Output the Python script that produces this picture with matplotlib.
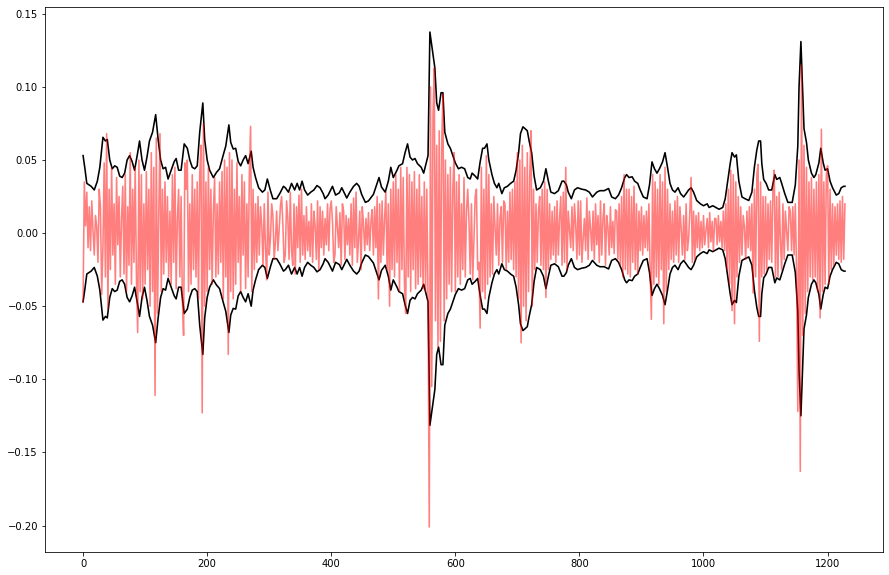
import numpy as np
import matplotlib
matplotlib.use("Agg")
import matplotlib.pyplot as plt

ret_step = 2
returns = [
    -0.047, 0.035, 0.005, 0.028, -0.010, 0.018, -0.012, 0.022, 0.002, -0.015,
    0.012, 0.004, -0.020, 0.030, 0.018, -0.042, -0.010, 0.048, -0.030, 0.068,
    -0.052, 0.030, -0.025, 0.045, -0.015, 0.020, -0.035, 0.038, -0.008, 0.025,
    -0.030, 0.010, 0.032, -0.028, 0.040, -0.040, 0.018, -0.022, 0.055, -0.035,
    0.030, -0.020, 0.045, -0.030, -0.068, 0.050, -0.040, 0.040, -0.045, 0.020,
    -0.035, 0.042, -0.025, 0.030, -0.050, 0.055, -0.040, 0.045, -0.111, 0.065,
    -0.055, 0.012, 0.068, -0.040, 0.030, -0.028, 0.035, -0.020, 0.025, -0.030,
    0.015, -0.035, 0.040, -0.020, 0.045, -0.038, 0.010, 0.030, -0.030, 0.025,
    -0.045, -0.070, 0.048, 0.030, 0.050, -0.040, 0.020, -0.035, 0.040, -0.025,
    0.030, -0.030, 0.035, -0.045, 0.040, 0.060, -0.123, 0.075, -0.050, 0.035,
    -0.040, 0.045, -0.025, 0.030, -0.035, 0.015, 0.038, -0.030, 0.020, -0.028,
    0.035, -0.020, 0.042, -0.045, 0.050, -0.030, 0.045, -0.083, 0.055, -0.040,
    0.050, -0.045, 0.030, -0.035, 0.048, -0.020, 0.025, -0.040, 0.040, -0.015,
    0.035, -0.038, 0.020, -0.030, 0.040, 0.073, -0.040, 0.030, -0.025, 0.020,
    -0.020, 0.025, -0.015, 0.018, 0.005, -0.022, 0.020, -0.010, -0.032, 0.028,
    -0.015, -0.004, 0.020, 0.012, -0.018, -0.006, 0.015, -0.012, 0.002, 0.018,
    0.025, 0.006, -0.020, -0.015, 0.022, 0.010, -0.018, 0.028, -0.012, -0.022,
    0.020, -0.028, 0.018, -0.010, 0.026, -0.020, 0.030, -0.015, 0.012, -0.018,
    0.018, -0.012, 0.008, -0.016, 0.020, -0.020, 0.015, 0.005, -0.018, 0.022,
    -0.025, 0.018, -0.010, 0.015, -0.015, 0.010, -0.008, 0.020, -0.012, 0.016,
    0.022, 0.008, -0.020, -0.015, 0.018, 0.004, -0.010, 0.014, -0.022, 0.020,
    0.015, -0.018, 0.012, -0.008, 0.010, -0.015, 0.020, -0.022, 0.024, -0.010,
    0.028, -0.020, -0.004, 0.015, -0.025, 0.018, 0.006, -0.012, 0.010, -0.008,
    0.014, -0.012, 0.008, 0.016, -0.015, 0.018, -0.010, 0.025, -0.045, 0.020,
    -0.020, 0.022, -0.015, 0.010, 0.028, -0.025, 0.020, -0.050, 0.030, -0.025,
    0.035, -0.030, 0.040, -0.020, 0.030, -0.040, 0.045, -0.025, 0.038, -0.035,
    -0.055, 0.045, -0.030, 0.040, -0.040, 0.035, -0.025, 0.042, -0.038, 0.030,
    -0.035, 0.040, -0.030, 0.025, -0.038, 0.035, -0.040, 0.030, -0.045, -0.201,
    0.100, -0.105, 0.080, 0.113, -0.060, 0.060, -0.078, 0.070, -0.074, 0.060,
    0.095, -0.060, 0.050, -0.045, 0.040, -0.035, 0.045, -0.040, 0.030, 0.055,
    -0.040, 0.035, -0.030, 0.040, -0.035, 0.020, -0.025, 0.038, -0.030, 0.015,
    0.030, 0.008, -0.028, 0.020, -0.032, -0.005, 0.025, 0.030, -0.025, -0.020,
    -0.065, 0.045, -0.040, 0.030, -0.045, 0.053, -0.035, 0.040, -0.030, 0.020,
    -0.028, 0.025, 0.004, -0.015, 0.020, -0.022, 0.010, 0.018, -0.020, 0.022,
    0.020, -0.025, 0.015, -0.020, 0.028, -0.018, 0.030, -0.025, 0.035, -0.030,
    0.055, -0.045, 0.050, -0.075, 0.060, -0.050, 0.045, -0.060, 0.055, -0.040,
    0.040, 0.070, -0.050, 0.030, -0.025, 0.020, -0.020, 0.015, 0.025, -0.022,
    0.030, -0.025, 0.035, -0.044, 0.030, -0.025, 0.020, -0.018, 0.015, -0.015,
    0.018, -0.020, 0.022, -0.015, 0.010, 0.025, -0.022, 0.028, -0.020, 0.045,
    -0.025, 0.015, 0.002, -0.010, 0.018, -0.012, 0.020, 0.006, -0.018, 0.022,
    -0.015, 0.022, -0.020, -0.004, 0.010, -0.012, 0.024, -0.018, 0.015, 0.003,
    -0.012, 0.015, -0.018, 0.020, -0.008, 0.012, -0.020, 0.022, -0.015, 0.010,
    0.020, -0.022, 0.012, 0.004, -0.015, 0.018, -0.010, 0.008, -0.014, 0.016,
    0.015, -0.018, 0.020, -0.022, 0.025, -0.030, 0.040, -0.025, 0.030, -0.028,
    0.030, -0.030, 0.025, -0.020, 0.032, -0.025, 0.020, -0.028, 0.015, -0.012,
    0.018, -0.015, 0.012, -0.010, 0.015, -0.012, 0.020, -0.025, -0.059, 0.040,
    -0.035, 0.035, -0.030, 0.030, -0.035, 0.040, -0.025, 0.035, -0.062, 0.045,
    -0.040, 0.030, -0.025, 0.020, -0.018, 0.015, -0.020, 0.022, -0.015, 0.025,
    -0.020, 0.018, 0.003, -0.015, 0.012, -0.018, 0.020, -0.012, -0.004, 0.015,
    0.038, -0.020, 0.015, -0.018, 0.012, -0.010, 0.014, -0.012, 0.008, -0.010,
    0.012, -0.008, 0.002, 0.010, -0.010, 0.014, -0.006, 0.008, -0.012, 0.010,
    0.010, -0.008, 0.012, -0.006, 0.008, -0.010, 0.015, -0.012, 0.020, -0.025,
    0.030, -0.035, 0.043, -0.053, 0.040, -0.062, 0.035, -0.030, 0.025, -0.020,
    0.018, -0.015, 0.012, 0.004, -0.018, 0.015, -0.010, 0.018, -0.012, 0.020,
    -0.041, 0.030, -0.030, 0.040, 0.047, -0.074, 0.035, -0.030, 0.025, -0.028,
    0.025, -0.025, 0.020, -0.018, 0.022, -0.020, 0.030, 0.043, -0.030, 0.025,
    -0.030, 0.028, -0.006, -0.025, 0.020, -0.018, 0.015, 0.002, -0.012, 0.018,
    0.015, -0.012, 0.018, -0.015, 0.020, -0.025, -0.122, 0.050, -0.163, 0.115,
    -0.070, 0.060, -0.055, 0.045, -0.040, 0.035, -0.030, 0.038, -0.032, 0.030,
    -0.030, 0.035, -0.040, 0.040, -0.058, 0.071, -0.040, 0.035, -0.035, 0.040,
    0.046, -0.035, 0.030, -0.025, 0.020, -0.022, 0.018, -0.015, 0.020, -0.018,
    0.022, -0.020, 0.025, -0.018, 0.020,
]

# band half-width (2 sigma) at the turning points of the band
band_mean = 0.003
band_day = [
    0, 3, 6, 13, 18, 23, 27, 32, 36, 39, 43, 47, 51, 55, 59, 63, 67, 71, 75, 79,
    83, 88, 91, 95, 99, 103, 107, 112, 117, 121, 125, 129, 133, 137, 142, 147, 150, 154, 158, 163,
    168, 172, 176, 180, 184, 188, 193, 196, 200, 204, 210, 215, 220, 226, 230, 235, 238, 242, 246, 250,
    254, 258, 262, 266, 271, 274, 278, 283, 289, 293, 297, 302, 306, 312, 317, 323, 326, 331, 336, 341,
    345, 349, 353, 357, 362, 367, 372, 377, 382, 387, 390, 395, 402, 407, 413, 417, 421, 425, 430, 436,
    441, 445, 449, 455, 460, 468, 473, 477, 481, 487, 492, 496, 500, 506, 509, 515, 519, 523, 527, 531,
    535, 539, 545, 549, 553, 556, 559, 563, 567, 570, 573, 577, 580, 583, 588, 592, 596, 600, 605, 610,
    615, 620, 624, 627, 632, 636, 640, 644, 647, 651, 654, 659, 663, 667, 670, 675, 679, 684, 689, 694,
    698, 702, 705, 709, 712, 716, 719, 723, 727, 731, 737, 742, 746, 750, 754, 760, 766, 772, 775, 779,
    782, 787, 792, 797, 804, 810, 816, 821, 828, 833, 840, 847, 852, 858, 863, 868, 873, 876, 880, 885,
    889, 894, 898, 903, 909, 913, 917, 921, 925, 929, 934, 938, 942, 946, 950, 954, 959, 963, 968, 972,
    976, 980, 984, 989, 995, 1000, 1006, 1009, 1015, 1020, 1025, 1031, 1035, 1039, 1043, 1046, 1050, 1053, 1057, 1062,
    1067, 1073, 1078, 1082, 1086, 1089, 1092, 1094, 1097, 1101, 1105, 1110, 1115, 1118, 1123, 1126, 1131, 1136, 1143, 1148,
    1152, 1154, 1157, 1159, 1162, 1166, 1169, 1174, 1178, 1181, 1186, 1189, 1193, 1196, 1200, 1204, 1208, 1214, 1218, 1222,
    1226, 1228,
]
band_width = [
    0.050, 0.041, 0.031, 0.029, 0.0265, 0.0325, 0.042, 0.0625, 0.060, 0.061, 0.047, 0.041, 0.043, 0.042, 0.036, 0.035, 0.038, 0.047, 0.050, 0.046,
    0.040, 0.052, 0.060, 0.047, 0.040, 0.049, 0.060, 0.066, 0.078, 0.061, 0.047, 0.041, 0.042, 0.034, 0.040, 0.046, 0.048, 0.040, 0.040, 0.058,
    0.055, 0.047, 0.042, 0.041, 0.043, 0.066, 0.086, 0.061, 0.047, 0.040, 0.035, 0.0385, 0.041, 0.0505, 0.0565, 0.071, 0.059, 0.0545, 0.055, 0.046,
    0.043, 0.047, 0.050, 0.0445, 0.053, 0.042, 0.035, 0.028, 0.025, 0.0265, 0.034, 0.026, 0.0205, 0.0205, 0.024, 0.029, 0.028, 0.025, 0.031, 0.0265,
    0.031, 0.0265, 0.0325, 0.0265, 0.023, 0.025, 0.0265, 0.0295, 0.028, 0.024, 0.0205, 0.023, 0.029, 0.023, 0.0245, 0.028, 0.0245, 0.021, 0.025, 0.029,
    0.031, 0.029, 0.0235, 0.018, 0.019, 0.0235, 0.030, 0.035, 0.0285, 0.025, 0.0325, 0.042, 0.035, 0.040, 0.043, 0.0445, 0.052, 0.058, 0.049, 0.047,
    0.048, 0.0445, 0.042, 0.038, 0.045, 0.050, 0.1345, 0.122, 0.110, 0.086, 0.081, 0.093, 0.093, 0.066, 0.058, 0.055, 0.050, 0.045, 0.041, 0.042,
    0.041, 0.035, 0.034, 0.038, 0.036, 0.034, 0.0457, 0.055, 0.055, 0.058, 0.047, 0.037, 0.031, 0.028, 0.031, 0.024, 0.028, 0.029, 0.031, 0.0325,
    0.040, 0.052, 0.065, 0.0697, 0.0685, 0.067, 0.060, 0.052, 0.036, 0.0265, 0.028, 0.0325, 0.041, 0.0325, 0.025, 0.024, 0.026, 0.0325, 0.0325, 0.030,
    0.025, 0.0205, 0.0265, 0.028, 0.027, 0.0265, 0.025, 0.0217, 0.025, 0.026, 0.026, 0.0275, 0.0217, 0.0205, 0.023, 0.028, 0.035, 0.037, 0.035, 0.0355,
    0.0325, 0.031, 0.0265, 0.0217, 0.0205, 0.030, 0.0457, 0.041, 0.038, 0.041, 0.0457, 0.052, 0.042, 0.031, 0.0265, 0.025, 0.028, 0.024, 0.0217, 0.024,
    0.0265, 0.028, 0.025, 0.0193, 0.017, 0.0157, 0.017, 0.0145, 0.0157, 0.0145, 0.0133, 0.0145, 0.0205, 0.0325, 0.0445, 0.052, 0.049, 0.0505, 0.0325, 0.0217,
    0.0205, 0.0193, 0.025, 0.042, 0.054, 0.060, 0.060, 0.0445, 0.0337, 0.031, 0.0265, 0.0265, 0.037, 0.0337, 0.035, 0.031, 0.024, 0.018, 0.018, 0.030,
    0.0565, 0.097, 0.128, 0.104, 0.0685, 0.059, 0.047, 0.038, 0.035, 0.037, 0.045, 0.055, 0.045, 0.040, 0.041, 0.0325, 0.028, 0.023, 0.024, 0.028,
    0.029, 0.029,
]

ret_day = np.arange(len(returns)) * ret_step
band_day = np.array(band_day)
band_width = np.array(band_width)
upper = band_mean + band_width
lower = band_mean - band_width

fig = plt.figure(figsize=(889 / 72, 575 / 72), dpi=72)
ax = fig.add_axes([0.0506, 0.0405, 0.9427, 0.9468])

ax.plot(band_day, upper, color='black', linewidth=1.6)
ax.plot(band_day, lower, color='black', linewidth=1.6)
ax.plot(ret_day, returns, color='red', alpha=0.5, linewidth=1.6)

ax.tick_params(labelsize=10)

fig.savefig('out.png', dpi=72)
